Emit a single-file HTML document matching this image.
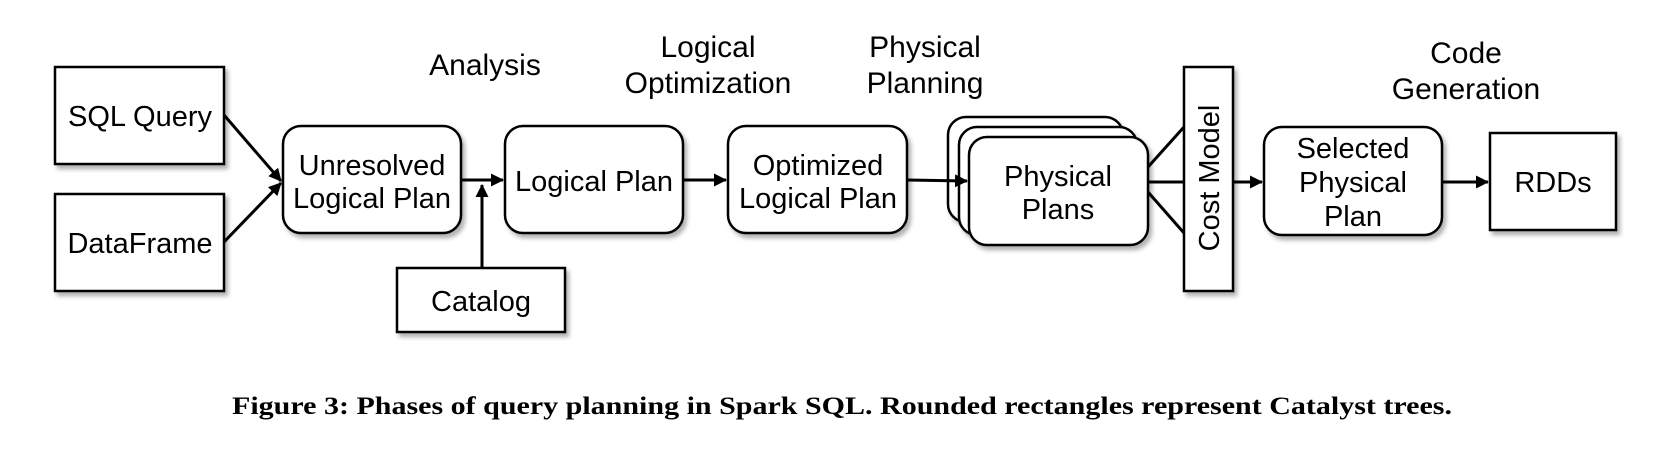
<!DOCTYPE html>
<html><head><meta charset="utf-8"><style>
html,body{margin:0;padding:0;background:#fff;}
svg{display:block;}
</style></head><body>
<svg width="1670" height="450" viewBox="0 0 1670 450" xmlns="http://www.w3.org/2000/svg">
<defs>
<filter id="sh" x="-10%" y="-10%" width="130%" height="130%">
<feDropShadow dx="3" dy="4" stdDeviation="2" flood-color="#000" flood-opacity="0.3"/>
</filter>
<marker id="ar" markerWidth="13" markerHeight="13" refX="12" refY="6.5" orient="auto" markerUnits="userSpaceOnUse">
<path d="M0,0 L13,6.5 L0,13 z" fill="#000"/>
</marker>
</defs>
<g font-family="Liberation Sans, sans-serif" font-size="30" text-anchor="middle" fill="#000">
<text x="485" y="75">Analysis</text>
<text x="708" y="57">Logical</text>
<text x="708" y="93">Optimization</text>
<text x="925" y="57">Physical</text>
<text x="925" y="93">Planning</text>
<text x="1466" y="63">Code</text>
<text x="1466" y="99">Generation</text>
</g>
<g stroke="#000" stroke-width="2.5" fill="#fff" filter="url(#sh)">
<rect x="55" y="67" width="169" height="97"/>
<rect x="55" y="194" width="169" height="97"/>
<rect x="283" y="126" width="178" height="107" rx="18"/>
<rect x="505" y="126" width="178" height="107" rx="18"/>
<rect x="728" y="126" width="179" height="107" rx="18"/>
<rect x="397" y="268" width="168" height="64"/>
<rect x="948" y="117" width="175" height="105" rx="18"/>
<rect x="959" y="127" width="178" height="108" rx="18"/>
<rect x="969" y="137" width="179" height="108" rx="18"/>
<rect x="1184" y="67" width="49" height="224"/>
<rect x="1264" y="127" width="178" height="108" rx="18"/>
<rect x="1490" y="133" width="126" height="97"/>
</g>
<g stroke="#000" stroke-width="3" fill="none">
<line x1="224" y1="115" x2="281" y2="181" marker-end="url(#ar)"/>
<line x1="224" y1="242" x2="281" y2="183" marker-end="url(#ar)"/>
<line x1="461" y1="180" x2="503" y2="180" marker-end="url(#ar)"/>
<line x1="482" y1="268" x2="482" y2="185" marker-end="url(#ar)"/>
<line x1="683" y1="180" x2="726" y2="180" marker-end="url(#ar)"/>
<line x1="907" y1="180" x2="967" y2="181" marker-end="url(#ar)"/>
<line x1="1148" y1="167" x2="1184" y2="127"/>
<line x1="1148" y1="182" x2="1184" y2="182"/>
<line x1="1148" y1="192" x2="1184" y2="233"/>
<line x1="1233" y1="182" x2="1262" y2="182" marker-end="url(#ar)"/>
<line x1="1442" y1="182" x2="1488" y2="182" marker-end="url(#ar)"/>
</g>
<g font-family="Liberation Sans, sans-serif" font-size="29" text-anchor="middle" fill="#000">
<text x="140" y="126">SQL Query</text>
<text x="140" y="253">DataFrame</text>
<text x="372" y="175">Unresolved</text>
<text x="372" y="208">Logical Plan</text>
<text x="594" y="191">Logical Plan</text>
<text x="818" y="175">Optimized</text>
<text x="818" y="208">Logical Plan</text>
<text x="481" y="311">Catalog</text>
<text x="1058" y="186">Physical</text>
<text x="1058" y="219">Plans</text>
<text transform="translate(1219,178) rotate(-90)" x="0" y="0">Cost Model</text>
<text x="1353" y="158">Selected</text>
<text x="1353" y="192">Physical</text>
<text x="1353" y="226">Plan</text>
<text x="1553" y="192">RDDs</text>
</g>
<text x="842" y="414" font-family="Liberation Serif, serif" font-weight="bold" font-size="25" text-anchor="middle" textLength="1220" lengthAdjust="spacingAndGlyphs">Figure 3: Phases of query planning in Spark SQL. Rounded rectangles represent Catalyst trees.</text>
</svg>
</body></html>
